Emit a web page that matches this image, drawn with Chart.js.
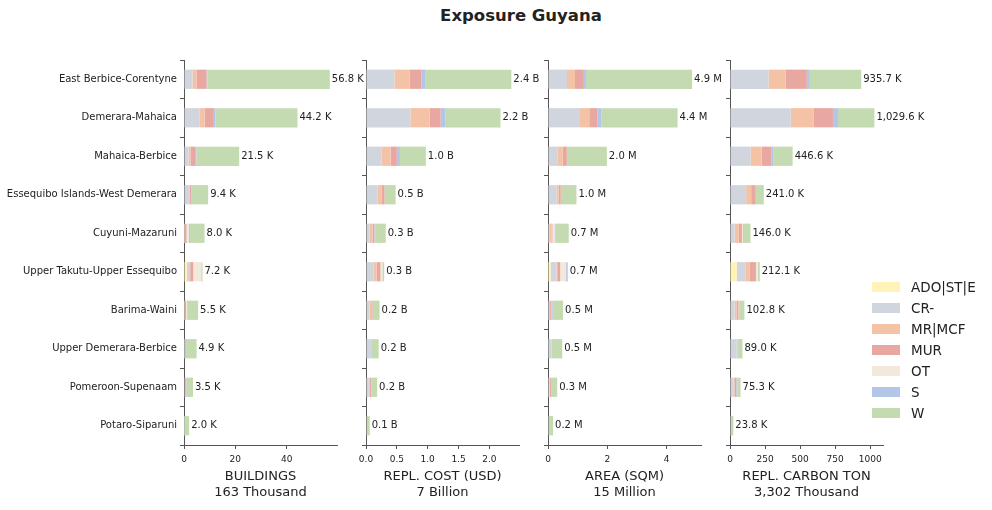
<!DOCTYPE html>
<html>
<head>
<meta charset="utf-8">
<script src="https://cdn.jsdelivr.net/npm/chart.js@4.4.1/dist/chart.umd.min.js"></script>
<style>
  body { margin: 0; background: #fff; font-family: "DejaVu Sans", sans-serif; }
  #wrap { position: relative; width: 992px; height: 510px; overflow: hidden; }
  canvas { position: absolute; top: 0; }
  #title { position: absolute; top: 6px; left: 396px; width: 250px; text-align: center; font-weight: bold; font-size: 16.5px; color: #222; }
  #legend { position: absolute; left: 872px; top: 276px; font-size: 13.5px; color: #222; }
  .lg { height: 21px; display: flex; align-items: center; }
  .sw { width: 28px; height: 10px; margin-right: 11px; }
</style>
</head>
<body>
<div id="wrap">
  <div id="title">Exposure Guyana</div>
  <canvas id="c1" width="377" height="510" style="left:0px"></canvas>
  <canvas id="c2" width="213" height="510" style="left:346px"></canvas>
  <canvas id="c3" width="213" height="510" style="left:528px"></canvas>
  <canvas id="c4" width="253" height="510" style="left:710px"></canvas>
  <div id="legend"></div>
</div>
<script>
const regions = ["East Berbice-Corentyne", "Demerara-Mahaica", "Mahaica-Berbice", "Essequibo Islands-West Demerara", "Cuyuni-Mazaruni",
  "Upper Takutu-Upper Essequibo", "Barima-Waini", "Upper Demerara-Berbice", "Pomeroon-Supenaam", "Potaro-Siparuni"];
const classes = ["ADO|ST|E", "CR-", "MR|MCF", "MUR", "OT", "S", "W"];
const classColors = ["#fff3b8", "#d1d5dd", "#f4c3a6", "#e8a8a1", "#f3e8dc", "#b3c6e8", "#c4dab1"];

// one row per class (same order as classes), one value per region
const buildings = [ // thousand buildings
  [0, 0, 0, 0, 0, 1.1, 0, 0, 0, 0],
  [3.3, 6.0, 1.8, 2.0, 0.1, 0.9, 0.1, 0.1, 0.2, 0.1],
  [1.6, 2.0, 0.7, 0.2, 0.3, 0.4, 0.2, 0, 0, 0],
  [3.9, 3.3, 1.8, 0.6, 0.6, 1.2, 0.5, 0.1, 0.2, 0],
  [0, 0, 0, 0, 0.8, 3.1, 0.4, 0, 0, 0],
  [0.3, 0.9, 0.5, 0, 0.5, 0, 0, 0.6, 0.5, 0],
  [47.7, 32.0, 16.7, 6.6, 5.7, 0.5, 4.3, 4.1, 2.6, 1.9],
];
const replCost = [ // billion USD
  [0, 0, 0, 0, 0, 0, 0, 0, 0, 0],
  [0.46, 0.72, 0.25, 0.185, 0.055, 0.12, 0.055, 0.07, 0.045, 0.01],
  [0.245, 0.31, 0.15, 0.065, 0.05, 0.05, 0.03, 0, 0.015, 0],
  [0.196, 0.18, 0.1, 0.05, 0.03, 0.065, 0.02, 0, 0.02, 0],
  [0, 0, 0, 0, 0, 0.03, 0, 0, 0, 0],
  [0.065, 0.08, 0.05, 0, 0.015, 0, 0, 0.015, 0.01, 0],
  [1.39, 0.89, 0.42, 0.18, 0.17, 0.03, 0.115, 0.12, 0.09, 0.05],
];
const area = [ // million sqm
  [0, 0, 0, 0, 0, 0.09, 0, 0, 0, 0],
  [0.64, 1.05, 0.33, 0.29, 0.05, 0.2, 0.04, 0.12, 0.05, 0.02],
  [0.27, 0.34, 0.17, 0.07, 0.07, 0.02, 0.03, 0, 0.02, 0],
  [0.3, 0.27, 0.135, 0.07, 0.03, 0.1, 0.05, 0, 0.05, 0],
  [0, 0, 0, 0, 0.07, 0.2, 0.02, 0, 0, 0],
  [0.07, 0.135, 0.03, 0, 0.03, 0.03, 0.03, 0.01, 0, 0],
  [3.58, 2.575, 1.32, 0.53, 0.45, 0.03, 0.34, 0.35, 0.19, 0.15],
];
const carbon = [ // thousand ton
  [0, 0, 0, 0, 0, 48, 0, 0, 0, 0],
  [275, 433, 146, 115, 33, 65, 32, 48, 24, 6],
  [122, 165, 79, 36, 30, 29, 15, 8, 7, 0],
  [151, 136, 72, 28, 22, 43, 14, 0, 14, 0],
  [0, 0, 0, 0, 7, 13.1, 3, 0, 0, 0],
  [21.5, 36, 14, 6, 7, 0, 3, 2, 7, 0],
  [366.2, 259.6, 135.6, 56, 47, 14, 35.8, 31, 23.3, 17.8],
];

const ticksBuildings = [0, 20, 40];
const ticksCost = [0, 0.5, 1.0, 1.5, 2.0];
const ticksArea = [0, 2, 4];
const ticksCarbon = [0, 250, 500, 750, 1000];

Chart.defaults.font.family = "'DejaVu Sans', sans-serif";
Chart.defaults.color = "#222";

const fmt1 = (v) => v.toLocaleString("en-US", { minimumFractionDigits: 1, maximumFractionDigits: 1 });
const totalsOf = (rows) => regions.map((_, i) => rows.reduce((s, r) => s + r[i], 0));

const totalLabels = {
  id: "totalLabels",
  afterDatasetsDraw(chart, args, opts) {
    const { ctx, scales: { x, y } } = chart;
    ctx.save();
    ctx.font = "10px 'DejaVu Sans', sans-serif";
    ctx.fillStyle = "#222";
    ctx.textBaseline = "middle";
    ctx.textAlign = "left";
    opts.totals.forEach((t, i) => {
      ctx.fillText(fmt1(t) + " " + opts.unit, x.getPixelForValue(t) + 2, y.getPixelForValue(i));
    });
    ctx.restore();
  },
};

function makePanel(id, rows, o) {
  const totals = totalsOf(rows);
  const grand = totals.reduce((a, b) => a + b, 0);
  new Chart(document.getElementById(id), {
    type: "bar",
    data: {
      labels: regions,
      datasets: classes.map((c, k) => ({ label: c, data: rows[k], backgroundColor: classColors[k], borderWidth: 0, barPercentage: 0.5, categoryPercentage: 1.0 })),
    },
    options: {
      indexAxis: "y",
      responsive: false,
      animation: false,
      devicePixelRatio: 1,
      layout: { padding: { top: 60, bottom: 0, left: 0, right: o.padRight } },
      plugins: { legend: { display: false }, tooltip: { enabled: false }, totalLabels: { totals, unit: o.unit } },
      scales: {
        x: {
          stacked: true, min: 0, max: o.max,
          afterBuildTicks: (s) => { s.ticks = o.ticks.map((v) => ({ value: v })); },
          afterFit: (s) => { s.height = 65; },
          grid: { drawOnChartArea: false, drawTicks: true, tickLength: 4, color: "#555" },
          border: { display: true, color: "#555" },
          ticks: { font: { size: 9 }, padding: 5, maxRotation: 0, autoSkip: false, callback: (v) => o.tick(v) },
          title: { display: true, text: [o.title, Math.round(grand).toLocaleString("en-US") + " " + o.word], font: { size: 13, lineHeight: 1.23 }, padding: { top: 0, bottom: 9 }, color: "#222" },
        },
        y: {
          stacked: true,
          afterFit: (s) => { s.width = o.yWidth; },
          grid: { drawOnChartArea: false, drawTicks: true, tickLength: 4, color: "#555" },
          border: { display: true, color: "#555" },
          ticks: { display: o.showY, font: { size: 10 }, padding: 3, autoSkip: false },
        },
      },
    },
    plugins: [totalLabels],
  });
}

makePanel("c1", buildings, { unit: "K", max: 59.6, ticks: ticksBuildings, padRight: 40, yWidth: 184, showY: true, title: "BUILDINGS", word: "Thousand", tick: (v) => String(v) });
makePanel("c2", replCost, { unit: "B", max: 2.48, ticks: ticksCost, padRight: 40, yWidth: 20, showY: false, title: "REPL. COST (USD)", word: "Billion", tick: (v) => v.toFixed(1) });
makePanel("c3", area, { unit: "M", max: 5.16, ticks: ticksArea, padRight: 40, yWidth: 20, showY: false, title: "AREA (SQM)", word: "Million", tick: (v) => String(v) });
makePanel("c4", carbon, { unit: "K", max: 1091, ticks: ticksCarbon, padRight: 80, yWidth: 20, showY: false, title: "REPL. CARBON TON", word: "Thousand", tick: (v) => String(v) });

document.getElementById("legend").innerHTML = classes
  .map((c, k) => `<div class="lg"><span class="sw" style="background:${classColors[k]}"></span>${c}</div>`)
  .join("");
</script>
</body>
</html>
